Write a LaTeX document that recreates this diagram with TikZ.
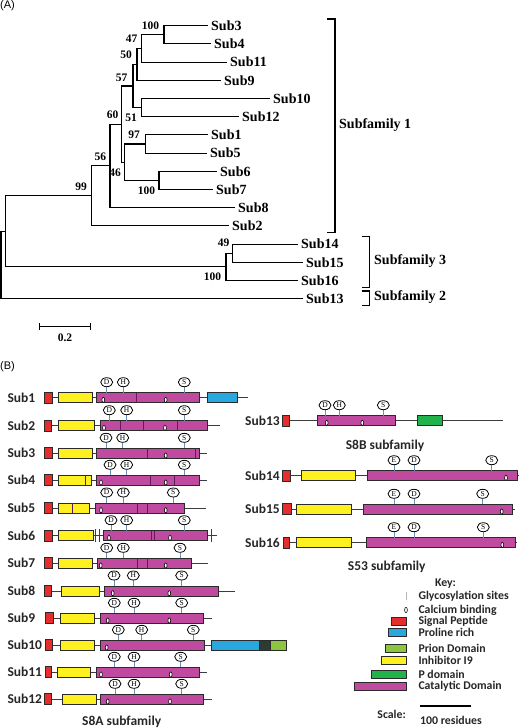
\documentclass[tikz,border=0pt]{standalone}
\usepackage{fontspec}
\setmainfont{Liberation Serif}
\newfontfamily\calib{Carlito}
\newfontfamily\arialfont{Liberation Sans}
\usetikzlibrary{shapes.geometric}
\definecolor{sigred}{HTML}{E52D2D}
\definecolor{inhyellow}{HTML}{FFF01F}
\definecolor{catmag}{HTML}{C04A9F}
\definecolor{problue}{HTML}{29A8E0}
\definecolor{priongreen}{HTML}{8CC63F}
\definecolor{pdomgreen}{HTML}{22B24C}
\definecolor{darkseg}{HTML}{2F3A30}
\definecolor{labgray}{HTML}{262626}
\definecolor{linegray}{HTML}{3C3C3C}
\definecolor{edgegray}{HTML}{2A2A2A}
\definecolor{divpurple}{HTML}{5E1E55}
\definecolor{stemblue}{HTML}{6B8FB5}
\definecolor{glyckey}{HTML}{B5B5B5}
\tikzset{
  branch/.style={draw=black, line width=1.1pt},
  leaf/.style={anchor=west, inner xsep=3pt, inner ysep=0pt, font=\fontsize{14}{16}\selectfont\bfseries},
  boot/.style={inner sep=0pt, font=\fontsize{11.5}{13}\selectfont\bfseries},
  fam/.style={anchor=west, inner sep=0pt, font=\fontsize{14}{16}\selectfont\bfseries},
  panel/.style={inner sep=0pt, font=\arialfont\fontsize{11}{13}\selectfont},
  rowlab/.style={anchor=west, inner sep=0pt, text=labgray, font=\calib\fontsize{13.5}{15}\selectfont\bfseries},
  caption/.style={inner sep=0pt, text=labgray, font=\calib\fontsize{13.5}{15}\selectfont\bfseries},
  keytext/.style={anchor=west, inner sep=0pt, text=labgray, font=\calib\fontsize{11.8}{13}\selectfont\bfseries},
  backbone/.style={draw=linegray, line width=0.9pt},
  dom/.style={draw=edgegray, line width=0.8pt},
  sigbox/.style={dom, fill=sigred},
  inhbox/.style={dom, fill=inhyellow},
  catbox/.style={dom, fill=catmag},
  probox/.style={dom, fill=problue},
  prionbox/.style={dom, fill=priongreen},
  pdombox/.style={dom, fill=pdomgreen},
  darkbox/.style={dom, fill=darkseg},
  divide/.style={draw=divpurple, line width=0.7pt},
  glyc/.style={draw=linegray, line width=0.7pt},
  stem/.style={draw=stemblue, line width=0.9pt},
  sitemark/.style={ellipse, draw=black, line width=0.8pt, fill=white, minimum width=12pt, minimum height=9pt, inner sep=0pt, font=\fontsize{7.5}{8}\selectfont},
  pics/site/.style={code={
    \draw[stem] (0,-5) -- (0,-11);
    \node[sitemark] (-m) at (0,-15.5) {#1};}},
  cabind/.pic={\draw[draw=black, line width=0.6pt, fill=white] (0,2.2) ellipse (1.4 and 2.6);}
}
\begin{document}
\begin{tikzpicture}[x=1pt, y=-1pt]
  \useasboundingbox (0,0) rectangle (520,728);

  % (A) tree
  \node[panel] (pa) at (7.5,5.8) {(A)};
  \node[leaf] (sub3) at (208,25.7) {Sub3};
  \node[leaf] (sub4) at (211,43.9) {Sub4};
  \node[leaf] (sub11) at (227,62.1) {Sub11};
  \node[leaf] (sub9) at (221,80.3) {Sub9};
  \node[leaf] (sub10) at (270,98.5) {Sub10};
  \node[leaf] (sub12) at (239,116.7) {Sub12};
  \node[leaf] (sub1) at (208,134.9) {Sub1};
  \node[leaf] (sub5) at (207,153.1) {Sub5};
  \node[leaf] (sub6) at (217,171.3) {Sub6};
  \node[leaf] (sub7) at (213,189.5) {Sub7};
  \node[leaf] (sub8) at (235,207.7) {Sub8};
  \node[leaf] (sub2) at (229,225.9) {Sub2};
  \node[leaf] (sub14) at (298,244.1) {Sub14};
  \node[leaf] (sub15) at (303,262.3) {Sub15};
  \node[leaf] (sub16) at (298,280.5) {Sub16};
  \node[leaf] (sub13) at (303,298.7) {Sub13};

  \coordinate (nA) at (164,34.8);
  \coordinate (nB) at (141.7,48.45);
  \coordinate (nC) at (137,64.4);
  \coordinate (nD) at (141.7,107.6);
  \coordinate (nE) at (133,86);
  \coordinate (nF) at (145.7,144);
  \coordinate (nG) at (159,180.4);
  \coordinate (nH) at (124.3,162.2);
  \coordinate (nI) at (121.7,124.1);
  \coordinate (nJ) at (110,165.9);
  \coordinate (nK) at (91.7,195.9);
  \coordinate (nL) at (232.3,253.2);
  \coordinate (nM) at (226,266.85);
  \coordinate (nN) at (5.5,231.4);
  \coordinate (nR) at (1,265);

  \draw[branch] (nA) |- (sub3.west);  \draw[branch] (nA) |- (sub4.west);
  \draw[branch] (nB) |- (nA);         \draw[branch] (nB) |- (sub11.west);
  \draw[branch] (nC) |- (nB);         \draw[branch] (nC) |- (sub9.west);
  \draw[branch] (nD) |- (sub10.west); \draw[branch] (nD) |- (sub12.west);
  \draw[branch] (nE) |- (nC);         \draw[branch] (nE) |- (nD);
  \draw[branch] (nF) |- (sub1.west);  \draw[branch] (nF) |- (sub5.west);
  \draw[branch] (nG) |- (sub6.west);  \draw[branch] (nG) |- (sub7.west);
  \draw[branch] (nH) |- (nF);         \draw[branch] (nH) |- (nG);
  \draw[branch] (nI) |- (nE);         \draw[branch] (nI) |- (nH);
  \draw[branch] (nJ) |- (nI);         \draw[branch] (nJ) |- (sub8.west);
  \draw[branch] (nK) |- (nJ);         \draw[branch] (nK) |- (sub2.west);
  \draw[branch] (nL) |- (sub14.west); \draw[branch] (nL) |- (sub15.west);
  \draw[branch] (nM) |- (nL);         \draw[branch] (nM) |- (sub16.west);
  \draw[branch] (nN) |- (nK);         \draw[branch] (nN) |- (nM);
  \draw[branch] (nR) |- (nN);         \draw[branch] (nR) |- (sub13.west);

  \node[boot] (bA) at (150.5,26) {100};
  \node[boot] (bB) at (131.5,39) {47};
  \node[boot] (bC) at (126,55) {50};
  \node[boot] (bE) at (121.5,77.3) {57};
  \node[boot] (bD) at (131,117.5) {51};
  \node[boot] (bI) at (112.5,115) {60};
  \node[boot] (bF) at (134,134.3) {97};
  \node[boot] (bJ) at (100.3,156.7) {56};
  \node[boot] (bH) at (115,172.7) {46};
  \node[boot] (bG) at (146.5,190.3) {100};
  \node[boot] (bK) at (81,186.7) {99};
  \node[boot] (bL) at (223.5,243) {49};
  \node[boot] (bM) at (212.5,277) {100};

  \draw[branch] (327.3,19) -- (335,19) -- (335,232.7) -- (327.3,232.7);
  \node[fam] (fam1) at (339,125) {Subfamily 1};
  \draw[branch] (361.7,236.7) -- (369.3,236.7) -- (369.3,287.3) -- (361.7,287.3);
  \node[fam] (fam3) at (374,260.7) {Subfamily 3};
  \draw[branch] (361.7,291) -- (369.3,291) -- (369.3,305.7) -- (361.7,305.7);
  \node[fam] (fam2) at (374,297.3) {Subfamily 2};

  \draw[branch] (39.3,326.7) -- (90.7,326.7);
  \draw[branch] (39.3,323) -- (39.3,330.4);
  \draw[branch] (90.7,323) -- (90.7,330.4);
  \node[boot] (scl) at (65,337.5) {0.2};

  % (B) domain maps, S8A
  \node[panel] (pb) at (7.5,366.7) {(B)};
  \begin{scope}[shift={(0,397.7)}]
    \node[rowlab] (r1) at (7.3,0) {Sub1};
    \draw[backbone] (48,0) -- (248.3,0);
    \draw[sigbox] (44,-5.5) rectangle (52.3,5.5);
    \draw[inhbox] (58.3,-5) rectangle (92.7,5);
    \draw[catbox] (96,-5) rectangle (199.3,5);
    \draw[probox] (207.3,-5) rectangle (237.3,5);
    \draw[divide] (136,-5) -- (136,5);
    \foreach \x in {103.3,165.7} \pic at (\x,0) {cabind};
    \foreach \x/\s in {106.7/D,123.3/H,184.3/S} \pic at (\x,0) {site=\s};
  \end{scope}
  \begin{scope}[shift={(0,425.7)}]
    \node[rowlab] (r2) at (7.3,0) {Sub2};
    \draw[backbone] (48,0) -- (220,0);
    \draw[sigbox] (44,-5.5) rectangle (51.3,5.5);
    \draw[inhbox] (58.3,-5) rectangle (94.3,5);
    \draw[catbox] (100,-5) rectangle (207.3,5);
    \foreach \x in {120,143.3,177.7} \draw[divide] (\x,-5) -- (\x,5);
    \foreach \x in {104,165} \pic at (\x,0) {cabind};
    \foreach \x/\s in {109.3/D,126.7/H,184.3/S} \pic at (\x,0) {site=\s};
  \end{scope}
  \begin{scope}[shift={(0,453.3)}]
    \node[rowlab] (r3) at (7.3,0) {Sub3};
    \draw[backbone] (48,0) -- (207.3,0);
    \draw[sigbox] (44,-5.5) rectangle (52,5.5);
    \draw[inhbox] (58.3,-5) rectangle (92.7,5);
    \draw[catbox] (96.7,-5) rectangle (199,5);
    \foreach \x in {147.7,195} \draw[divide] (\x,-5) -- (\x,5);
    \pic at (165.7,0) {cabind};
    \foreach \x/\s in {106/D,122.7/H,184.3/S} \pic at (\x,0) {site=\s};
  \end{scope}
  \begin{scope}[shift={(0,480.3)}]
    \node[rowlab] (r4) at (7.3,0) {Sub4};
    \draw[backbone] (48,0) -- (207.3,0);
    \draw[sigbox] (44,-5.5) rectangle (52,5.5);
    \draw[inhbox] (58.3,-5) rectangle (91.7,5);
    \draw[divide] (85.7,-5) -- (85.7,5);
    \draw[catbox] (96,-5) rectangle (199,5);
    \foreach \x in {150.7,174.3} \draw[divide] (\x,-5) -- (\x,5);
    \foreach \x in {101,165.7} \pic at (\x,0) {cabind};
    \foreach \x/\s in {110/D,126.7/H,184.3/S} \pic at (\x,0) {site=\s};
  \end{scope}
  \begin{scope}[shift={(0,508)}]
    \node[rowlab] (r5) at (7.3,0) {Sub5};
    \draw[backbone] (48,0) -- (206,0);
    \draw[sigbox] (44,-5.5) rectangle (52,5.5);
    \draw[inhbox] (58.3,-5) rectangle (89.3,5);
    \draw[divide] (72.7,-5) -- (72.7,5);
    \draw[catbox] (95.3,-5) rectangle (184.3,5);
    \foreach \x in {137.3,147.7} \draw[divide] (\x,-5) -- (\x,5);
    \foreach \x in {101,165.7} \pic at (\x,0) {cabind};
    \foreach \x/\s in {106.7/D,123.3/H,173.3/S} \pic at (\x,0) {site=\s};
  \end{scope}
  \begin{scope}[shift={(0,535.7)}]
    \node[rowlab] (r6) at (7.3,0) {Sub6};
    \draw[backbone] (48,0) -- (216.7,0);
    \draw[sigbox] (44,-5.5) rectangle (52,5.5);
    \draw[inhbox] (58.3,-5) rectangle (93.3,5);
    \draw[catbox] (103.3,-5) rectangle (207.7,5);
    \foreach \x in {95.7,99,211} \draw[glyc] (\x,-6.5) -- (\x,6.5);
    \foreach \x in {151,154.3} \draw[divide] (\x,-5) -- (\x,5);
    \foreach \x in {109,170} \pic at (\x,0) {cabind};
    \foreach \x/\s in {111/D,126.7/H,184.3/S} \pic at (\x,0) {site=\s};
  \end{scope}
  \begin{scope}[shift={(0,563.3)}]
    \node[rowlab] (r7) at (7.3,0) {Sub7};
    \draw[backbone] (48,0) -- (208.3,0);
    \draw[sigbox] (44,-5.5) rectangle (52.3,5.5);
    \draw[inhbox] (58.3,-5) rectangle (92.7,5);
    \draw[catbox] (97.3,-5) rectangle (191,5);
    \foreach \x in {137.3,147.7} \draw[divide] (\x,-5) -- (\x,5);
    \foreach \x in {100.7,165.7} \pic at (\x,0) {cabind};
    \foreach \x/\s in {106.7/D,123.3/H,180/S} \pic at (\x,0) {site=\s};
  \end{scope}
  \begin{scope}[shift={(0,591)}]
    \node[rowlab] (r8) at (7.3,0) {Sub8};
    \draw[backbone] (48,0) -- (235,0);
    \draw[sigbox] (44,-5.5) rectangle (51,5.5);
    \draw[inhbox] (61.7,-5) rectangle (99.3,5);
    \draw[catbox] (104,-5) rectangle (218.3,5);
    \foreach \x in {112.7,169.3} \pic at (\x,0) {cabind};
    \foreach \x/\s in {114/D,133.3/H,181.7/S} \pic at (\x,0) {site=\s};
  \end{scope}
  \begin{scope}[shift={(0,618.3)}]
    \node[rowlab] (r9) at (7.3,0) {Sub9};
    \draw[backbone] (49,0) -- (211.7,0);
    \draw[sigbox] (45,-5.5) rectangle (53.3,5.5);
    \draw[inhbox] (60,-5) rectangle (94.3,5);
    \draw[catbox] (100,-5) rectangle (203.3,5);
    \foreach \x in {107.7,169.3} \pic at (\x,0) {cabind};
    \foreach \x/\s in {114.3/D,134/H,181.7/S} \pic at (\x,0) {site=\s};
  \end{scope}
  \begin{scope}[shift={(0,645.3)}]
    \node[rowlab] (r10) at (7.3,0) {Sub10};
    \draw[backbone] (49,0) -- (286,0);
    \draw[sigbox] (45,-5.5) rectangle (52.7,5.5);
    \draw[inhbox] (60,-5) rectangle (94.3,5);
    \draw[catbox] (100.7,-5) rectangle (204,5);
    \draw[probox] (211.7,-5) rectangle (259,5);
    \draw[darkbox] (259,-5) rectangle (270.7,5);
    \draw[prionbox] (270.7,-5) rectangle (286,5);
    \pic at (106.7,0) {cabind};
    \foreach \x/\s in {118.3/D,141.7/H,193.3/S} \pic at (\x,0) {site=\s};
  \end{scope}
  \begin{scope}[shift={(0,672.3)}]
    \node[rowlab] (r11) at (7.3,0) {Sub11};
    \draw[backbone] (49,0) -- (206.7,0);
    \draw[sigbox] (45,-5.5) rectangle (51.7,5.5);
    \draw[inhbox] (57.3,-5) rectangle (90.7,5);
    \draw[catbox] (96,-5) rectangle (199.3,5);
    \foreach \x in {101,170.7} \pic at (\x,0) {cabind};
    \foreach \x/\s in {114.3/D,134/H,180.7/S} \pic at (\x,0) {site=\s};
  \end{scope}
  \begin{scope}[shift={(0,699.3)}]
    \node[rowlab] (r12) at (7.3,0) {Sub12};
    \draw[backbone] (48,0) -- (211.7,0);
    \draw[sigbox] (44,-5.5) rectangle (51.7,5.5);
    \draw[inhbox] (62.7,-5) rectangle (96.7,5);
    \draw[catbox] (100.7,-5) rectangle (203.3,5);
    \foreach \x in {107.7,170} \pic at (\x,0) {cabind};
    \foreach \x/\s in {115/D,134/H,181.7/S} \pic at (\x,0) {site=\s};
  \end{scope}
  \node[caption] (capA) at (121.7,721.7) {S8A subfamily};

  % S8B and S53
  \begin{scope}[shift={(0,420.7)}]
    \node[rowlab] (r13) at (245,0) {Sub13};
    \draw[backbone] (286,0) -- (503.3,0);
    \draw[sigbox] (282.3,-5.5) rectangle (289.3,5.5);
    \draw[catbox] (317.3,-5) rectangle (395.7,5);
    \draw[pdombox] (417.7,-5) rectangle (442.3,5);
    \foreach \x in {326.7,362.3} \pic at (\x,0) {cabind};
    \foreach \x/\s in {325/D,339.3/H,383.3/S} \pic at (\x,0) {site=\s};
  \end{scope}
  \node[caption] (capB) at (385,445.7) {S8B subfamily};
  \begin{scope}[shift={(0,475.7)}]
    \node[rowlab] (r14) at (245,0) {Sub14};
    \draw[backbone] (286,0) -- (519,0);
    \draw[sigbox] (282.3,-5.5) rectangle (290.7,5.5);
    \draw[inhbox] (301,-5) rectangle (355.7,5);
    \draw[catbox] (367.7,-5) rectangle (517.3,5);
    \pic at (506,0) {cabind};
    \foreach \x/\s in {394/E,414/D,491.7/S} \pic at (\x,0) {site=\s};
  \end{scope}
  \begin{scope}[shift={(0,509.3)}]
    \node[rowlab] (r15) at (245,0) {Sub15};
    \draw[backbone] (286,0) -- (515,0);
    \draw[sigbox] (282.3,-5.5) rectangle (291.7,5.5);
    \draw[inhbox] (296.7,-5) rectangle (351.7,5);
    \draw[catbox] (363.3,-5) rectangle (512.3,5);
    \pic at (501.7,0) {cabind};
    \foreach \x/\s in {394/E,414/D,482.7/S} \pic at (\x,0) {site=\s};
  \end{scope}
  \begin{scope}[shift={(0,542.7)}]
    \node[rowlab] (r16) at (245,0) {Sub16};
    \draw[backbone] (286,0) -- (517,0);
    \draw[sigbox] (283.3,-5.5) rectangle (289.3,5.5);
    \draw[inhbox] (296.7,-5) rectangle (351.7,5);
    \draw[catbox] (366,-5) rectangle (515.7,5);
    \pic at (502.3,0) {cabind};
    \foreach \x/\s in {394/E,414/D,483.3/S} \pic at (\x,0) {site=\s};
  \end{scope}
  \node[caption] (capC) at (386.7,566.5) {S53 subfamily};

  % key
  \node[keytext, anchor=center] (key) at (445.5,583.3) {Key:};
  \draw[draw=glyckey, line width=1pt] (406,591.7) -- (406,600);
  \node[keytext] (kglyc) at (418.3,596.7) {Glycosylation sites};
  \draw[draw=black, line width=0.6pt] (406,610) ellipse (1.4 and 2.6);
  \node[keytext] (kca) at (418.3,610.5) {Calcium binding};
  \draw[sigbox] (391.7,617.3) rectangle (406,625);
  \node[keytext] (ksig) at (418.3,621.3) {Signal Peptide};
  \draw[probox] (388.3,628.7) rectangle (406,636.7);
  \node[keytext] (kpro) at (418.3,632.7) {Proline rich};
  \draw[prionbox] (385,644.3) rectangle (406,652.3);
  \node[keytext] (kpri) at (418.3,648.3) {Prion Domain};
  \draw[inhbox] (381.7,656.7) rectangle (406,664.7);
  \node[keytext] (kinh) at (418.3,660.7) {Inhibitor I9};
  \draw[pdombox] (371.7,670.3) rectangle (406,678.3);
  \node[keytext] (kpd) at (418.3,674.3) {P domain};
  \draw[catbox] (354.3,682.7) rectangle (406,690.7);
  \node[keytext] (kcat) at (418.3,686.7) {Catalytic Domain};
  \node[keytext, anchor=east] (kscale) at (406,714) {Scale:};
  \draw[draw=black, line width=1.4pt] (420,706) -- (470.7,706);
  \node[keytext] (kres) at (420,720) {100 residues};
\end{tikzpicture}
\end{document}
